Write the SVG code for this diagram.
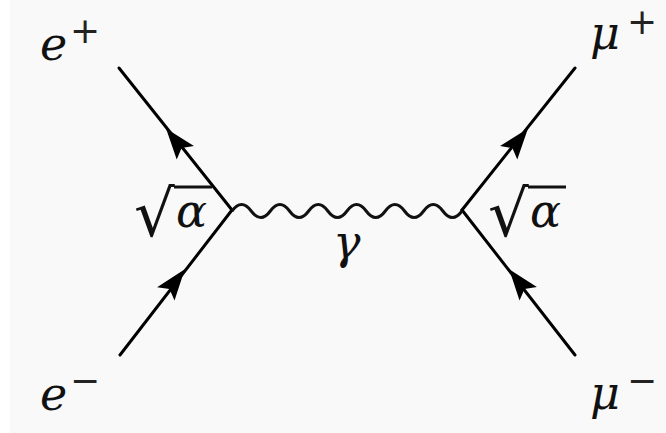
<svg xmlns="http://www.w3.org/2000/svg" xmlns:xlink="http://www.w3.org/1999/xlink" width="666" height="433" viewBox="0 0 666 433">
<style>
.fermion{stroke:#000;stroke-width:3;fill:none;stroke-linecap:round}
.photon{stroke:#111;stroke-width:3;fill:none}
.lbl{font-family:"DejaVu Serif","Liberation Serif",serif;font-style:italic;font-size:46px;fill:#111}
.sup{font-family:"DejaVu Sans","Liberation Sans",sans-serif;font-size:36px;fill:#222;text-anchor:middle}
.rad{font-family:"DejaVu Sans","Liberation Sans",sans-serif;font-size:64px;fill:#111}
.bar{stroke:#111;stroke-width:3}
</style>
<defs>
<path id="ah" d="M16,0 L-15,-11 L-9,0 L-15,11 Z" fill="#000"/>
</defs>
<rect x="0" y="0" width="666" height="433" fill="#f9f9f9"/>
<rect x="0" y="0" width="10" height="433" fill="#ffffff"/>
<g id="connectors">
<line class="fermion" x1="119" y1="68" x2="232" y2="210"/>
<line class="fermion" x1="120" y1="355" x2="232" y2="210"/>
<line class="fermion" x1="575" y1="68" x2="462" y2="210"/>
<line class="fermion" x1="575" y1="355" x2="462" y2="210"/>
<path class="photon" d="M232,211 q9.583,-13 19.167,0 t19.167,0 t19.167,0 t19.167,0 t19.167,0 t19.167,0 t19.167,0 t19.167,0 t19.167,0 t19.167,0 t19.167,0 t19.167,0"/>
<use xlink:href="#ah" transform="translate(176,141) rotate(231.5)"/>
<use xlink:href="#ah" transform="translate(175,282) rotate(-52.3)"/>
<use xlink:href="#ah" transform="translate(518,141) rotate(-51.5)"/>
<use xlink:href="#ah" transform="translate(519,282) rotate(-127.9)"/>
</g>
<g id="e-plus"><text class="lbl" x="40" y="60">e</text><text class="sup" x="85" y="43">+</text></g>
<g id="e-minus"><text class="lbl" x="40" y="410">e</text><text class="sup" x="85" y="393">−</text></g>
<g id="mu-plus"><text class="lbl" x="590" y="49">μ</text><text class="sup" x="642" y="34">+</text></g>
<g id="mu-minus"><text class="lbl" x="590" y="409">μ</text><text class="sup" x="642" y="393">−</text></g>
<g id="gamma"><text class="lbl" x="333" y="258">γ</text></g>
<g id="vertex-left"><text class="rad" x="134" y="236">√</text><line class="bar" x1="174" y1="187" x2="212" y2="187"/><text class="lbl" x="176" y="227">α</text></g>
<g id="vertex-right"><text class="rad" x="488" y="236">√</text><line class="bar" x1="528" y1="187" x2="566" y2="187"/><text class="lbl" x="530" y="227">α</text></g>
</svg>
